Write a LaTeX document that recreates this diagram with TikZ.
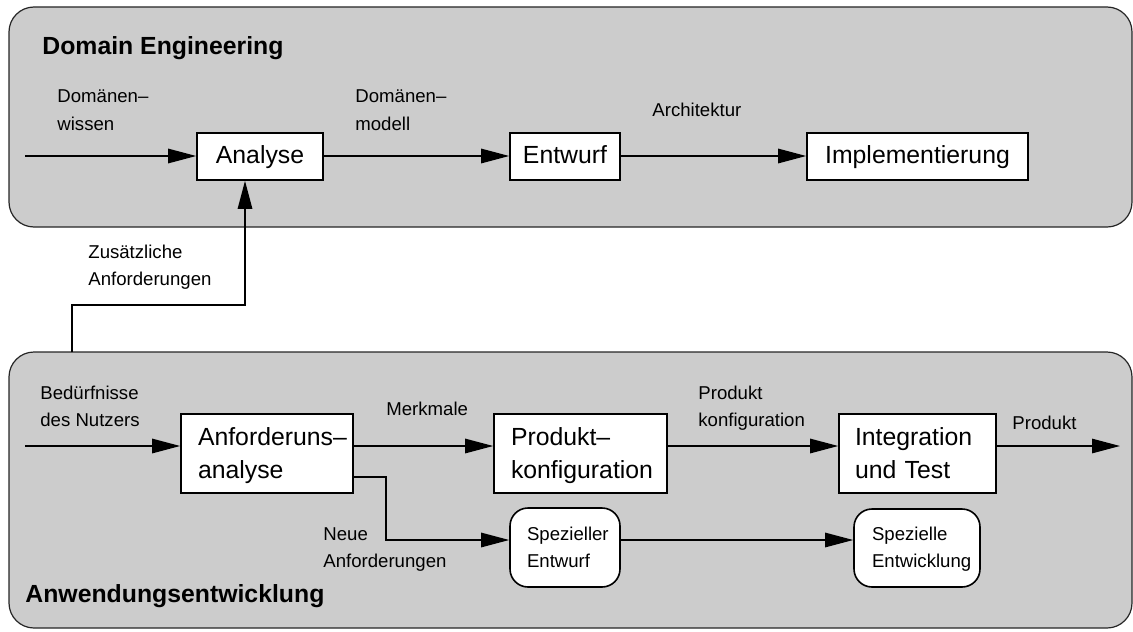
\documentclass[tikz,border=0pt]{standalone}
\usepackage{fontspec}
\setmainfont{Liberation Sans}
\usetikzlibrary{arrows.meta}
\hyphenpenalty=10000
\exhyphenpenalty=10000
\begin{document}
\begin{tikzpicture}[x=0.5pt,y=-0.5pt,
  lbl/.style={font=\fontsize{9.3}{13.5}\selectfont, align=left, inner sep=0pt, anchor=base west},
  ttl/.style={font=\fontsize{12.4}{15}\selectfont\bfseries, inner sep=0pt, anchor=base west},
  panel/.style={draw=black!85, fill=black!20, line width=0.6pt, rounded corners=12.5pt},
  box/.style={draw, fill=white, line width=0.8pt, font=\fontsize{12.4}{16.5}\selectfont, inner ysep=0pt},
  sbox/.style={box, minimum height=23.5pt, text height=6.5pt, text depth=0pt},
  lbox/.style={box, align=left, minimum height=39.5pt, text height=8pt, text depth=16.5pt},
  rbox/.style={box, align=left, rounded corners=9pt, minimum height=39.5pt,
    text height=6.5pt, text depth=14pt, font=\fontsize{9.3}{13.5}\selectfont},
  ln/.style={line width=0.8pt},
  arr/.style={ln, -{Triangle[length=14pt,width=7.2pt]}}]

\useasboundingbox (0,0) rectangle (1133,631);

% the two process areas
\node[panel, minimum width=561.5pt, minimum height=110pt] (de) at (570.5,117) {};
\node[panel, minimum width=561.5pt, minimum height=138pt] (ae) at (570.5,490) {};
\node[ttl] (detitle) at (42,55) {Domain Engineering};
\node[ttl] (aetitle) at (25,602) {Anwendungsentwicklung};

% domain engineering chain
\node[sbox, minimum width=63pt] (analyse) at (260,156.5) {Analyse};
\node[sbox, minimum width=55pt] (entwurf) at (565,156.5) {Entwurf};
\node[sbox, minimum width=110.5pt] (impl) at (917.5,156.5) {Implementierung};
\coordinate (din) at (25,156);

\draw[arr] (din) -- (din -| analyse.west);
\draw[arr] (din -| analyse.east) -- (din -| entwurf.west);
\draw[arr] (din -| entwurf.east) -- (din -| impl.west);

% multi-line labels are placed by the baseline of their last line
\node[lbl] (l1) at (57,130) {Domänen–\\wissen};
\node[lbl] (l2) at (355,130) {Domänen–\\modell};
\node[lbl] (l3) at (652,117) {Architektur};

% feedback into the analysis
\coordinate (z1) at (72,352);
\coordinate (z2) at (245,305);
\draw[arr] (z1) |- (z2) -- (z2 |- analyse.south);
\node[lbl] (l4) at (88,285) {Zusätzliche\\Anforderungen};

% application engineering chain
\node[lbox, text width=69pt, inner xsep=8.5pt] (anf) at (267,453.5) {Anforderuns–\\analyse};
\node[lbox, text width=69.5pt, inner xsep=8.5pt] (prod) at (580.5,453.5) {Produkt–\\konfiguration};
\node[lbox, text width=62.5pt, inner xsep=8pt] (integ) at (917.5,453.5) {Integration\\und Test};
\node[rbox, text width=38pt, inner xsep=8.5pt] (spez) at (565,547.5) {Spezieller\\Entwurf};
\node[rbox, text width=45pt, inner xsep=9pt, minimum height=39pt, text depth=14.5pt] (spezent) at (917,548) {Spezielle\\Entwicklung};

\coordinate (ain) at (25,446);
\coordinate (aout) at (1120,446);
\coordinate (n1) at (386,477);
\coordinate (n2) at (386,540);

\draw[arr] (ain) -- (ain -| anf.west);
\draw[arr] (ain -| anf.east) -- (ain -| prod.west);
\draw[arr] (ain -| prod.east) -- (ain -| integ.west);
\draw[arr] (ain -| integ.east) -- (aout);
\draw[arr] (n1 -| anf.east) -- (n1) -- (n2) -- (n2 -| spez.west);
\draw[arr] (n2 -| spez.east) -- (n2 -| spezent.west);

\node[lbl] (l5) at (40,426) {Bedürfnisse\\des Nutzers};
\node[lbl] (l6) at (386,415) {Merkmale};
\node[lbl] (l7) at (698,426) {Produkt\\konfiguration};
\node[lbl] (l8) at (1012,429) {Produkt};
\node[lbl] (l9) at (323,567) {Neue\\Anforderungen};
\end{tikzpicture}
\end{document}
